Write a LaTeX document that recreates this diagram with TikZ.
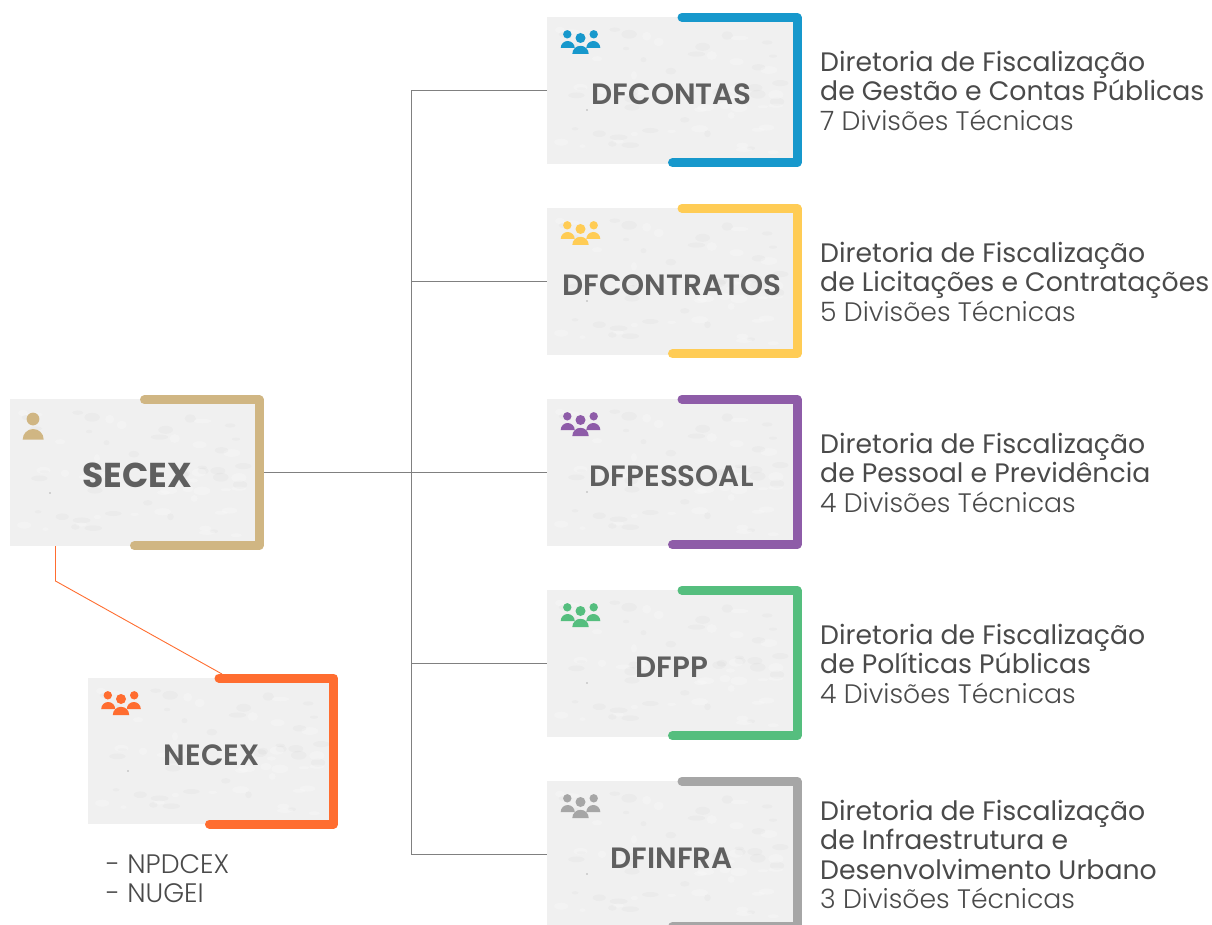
\documentclass[tikz,border=0pt]{standalone}
\usepackage{fontspec}
\setmainfont{Poppins}[BoldFont={Poppins SemiBold}]
\newfontfamily\lightfont{Poppins Light}
\newfontfamily\heavyfont{Poppins Bold}
\definecolor{cblue}{HTML}{1798CC}
\definecolor{cyellow}{HTML}{FFCC55}
\definecolor{cpurple}{HTML}{8E5CA8}
\definecolor{cgreen}{HTML}{55BE7E}
\definecolor{cgray}{HTML}{A6A6A6}
\definecolor{ctan}{HTML}{D0B683}
\definecolor{corange}{HTML}{FF6D30}
\definecolor{paper}{HTML}{F0F0F0}
\definecolor{ink}{HTML}{5F5F5F}
\definecolor{descink}{HTML}{4A4A4A}
\tikzset{
  x=1pt,y=-1pt,
  card/.style={fill=paper,draw=none,inner sep=0pt,outer sep=0pt,minimum height=146.5pt},
  cardname/.style={inner sep=0pt,text=ink,font=\bfseries\fontsize{29.4}{29.4}\selectfont,anchor=center},
  desc/.style={inner sep=0pt,anchor=north west,align=left,text=descink,font=\fontsize{26.7}{29.6}\selectfont},
  link/.style={draw=black!50,line width=0.8pt},
  bracket/.style={line width=9pt,line cap=round,line join=round},
  grain/.pic={
    \pgfmathsetseed{4711}
    \foreach \k in {1,...,70}{
      \pgfmathsetmacro{\gx}{12+rnd*222}
      \pgfmathsetmacro{\gy}{8+rnd*130}
      \pgfmathsetmacro{\ga}{3+rnd*6}
      \pgfmathsetmacro{\gb}{1.5+rnd*3}
      \ifodd\k
        \fill[white,opacity=.22] (\gx,\gy) ellipse [x radius=\ga,y radius=\gb];
      \else
        \fill[black,opacity=.018] (\gx,\gy) ellipse [x radius=\ga,y radius=\gb];
      \fi
    }
    \fill[black!30] (40,93) circle (.8);
  },
  people/.pic={
    \fill (20.3,17.3) circle (4.2);
    \fill (46.7,17.3) circle (4.2);
    \fill (33.5,21) circle (5);
    \fill (13.7,31) arc[start angle=180,end angle=360,radius=7] -- cycle;
    \fill (39.3,31) arc[start angle=180,end angle=360,radius=7] -- cycle;
    \fill (25.3,37) arc[start angle=180,end angle=360,radius=8.2] -- cycle;
  },
  person/.pic={
    \fill (23,20) circle (6.4);
    \fill (12.7,40.5) arc[start angle=180,end angle=360,radius=10.5] -- cycle;
  }
}
\begin{document}
\begin{tikzpicture}
\useasboundingbox (0,0) rectangle (1212,925);
\clip (0,0) rectangle (1212,925);
% cards
\node[card,minimum width=248pt] (secex) at (134,472.5) {};
\node[card,minimum width=245pt] (necex) at (210.5,751) {};
\node[card,minimum width=250pt] (dfcontas) at (672,90.5) {};
\node[card,minimum width=250pt] (dfcontratos) at (672,281.5) {};
\node[card,minimum width=250pt] (dfpessoal) at (672,472.5) {};
\node[card,minimum width=250pt] (dfpp) at (672,663.5) {};
\node[card,minimum width=250pt] (dfinfra) at (672,854.5) {};
\pic at (10,400) {grain};
\pic at (88,678) {grain};
\foreach \yy in {0,191,382,573,764}{\pic at (547,17+\yy) {grain};}
% connectors
\coordinate (spinetop) at (411,90.5);
\coordinate (spinebot) at (411,854.5);
\coordinate (elbow) at (55.5,581);
\coordinate (neend) at (222,674);
\draw[link] (spinetop) -- (spinebot);
\draw[link] (secex.east) -- (dfpessoal.west);
\draw[link] (spinetop) -- (dfcontas.west);
\draw[link] (411,281.5) -- (dfcontratos.west);
\draw[link] (411,663.5) -- (dfpp.west);
\draw[link] (spinebot) -- (dfinfra.west);
\draw[draw=corange,line width=0.9pt] (55.5,546) -- (elbow) -- (neend);
% brackets
\draw[bracket,ctan] (144.5,399.7) -- (259,399.7) -- (259,545.7) -- (134.5,545.7);
\draw[bracket,corange] (219,678) -- (333.5,678) -- (333.5,824) -- (209.5,824);
\foreach \yy/\cc in {0/cblue,191/cyellow,382/cpurple,573/cgreen,764/cgray}{
  \draw[bracket,\cc] (682,17.3+\yy) -- (797,17.3+\yy) -- (797,162.7+\yy) -- (672.5,162.7+\yy);
  \pic[\cc] at (547,17+\yy) {people};
}
\pic[ctan] at (10,399) {person};
\pic[corange] at (87.5,678) {people};
% names
\node[cardname,font=\heavyfont\fontsize{34.5}{34.5}\selectfont] (secexname) at (137.3,475) {SECEX};
\node[cardname] (necexname) at (211.8,755) {NECEX};
\node[cardname] (n1) at (671.7,94) {DFCONTAS};
\node[cardname] (n2) at (671.7,285) {DFCONTRATOS};
\node[cardname] (n3) at (671.7,476) {DFPESSOAL};
\node[cardname] (n4) at (671.7,667) {DFPP};
\node[cardname] (n5) at (671.7,858) {DFINFRA};
% descriptions
\node[desc] (d1) at (820,50.5) {Diretoria de Fiscalização\\de Gestão e Contas Públicas\\{\lightfont 7 Divisões Técnicas}};
\node[desc] (d2) at (820,241.5) {Diretoria de Fiscalização\\de Licitações e Contratações\\{\lightfont 5 Divisões Técnicas}};
\node[desc] (d3) at (820,432.5) {Diretoria de Fiscalização\\de Pessoal e Previdência\\{\lightfont 4 Divisões Técnicas}};
\node[desc] (d4) at (820,623.5) {Diretoria de Fiscalização\\de Políticas Públicas\\{\lightfont 4 Divisões Técnicas}};
\node[desc] (d5) at (820,799.5) {Diretoria de Fiscalização\\de Infraestrutura e\\Desenvolvimento Urbano\\{\lightfont 3 Divisões Técnicas}};
\node[desc] (sub) at (106,854) {\lightfont - NPDCEX\\\lightfont - NUGEI};
\end{tikzpicture}
\end{document}
